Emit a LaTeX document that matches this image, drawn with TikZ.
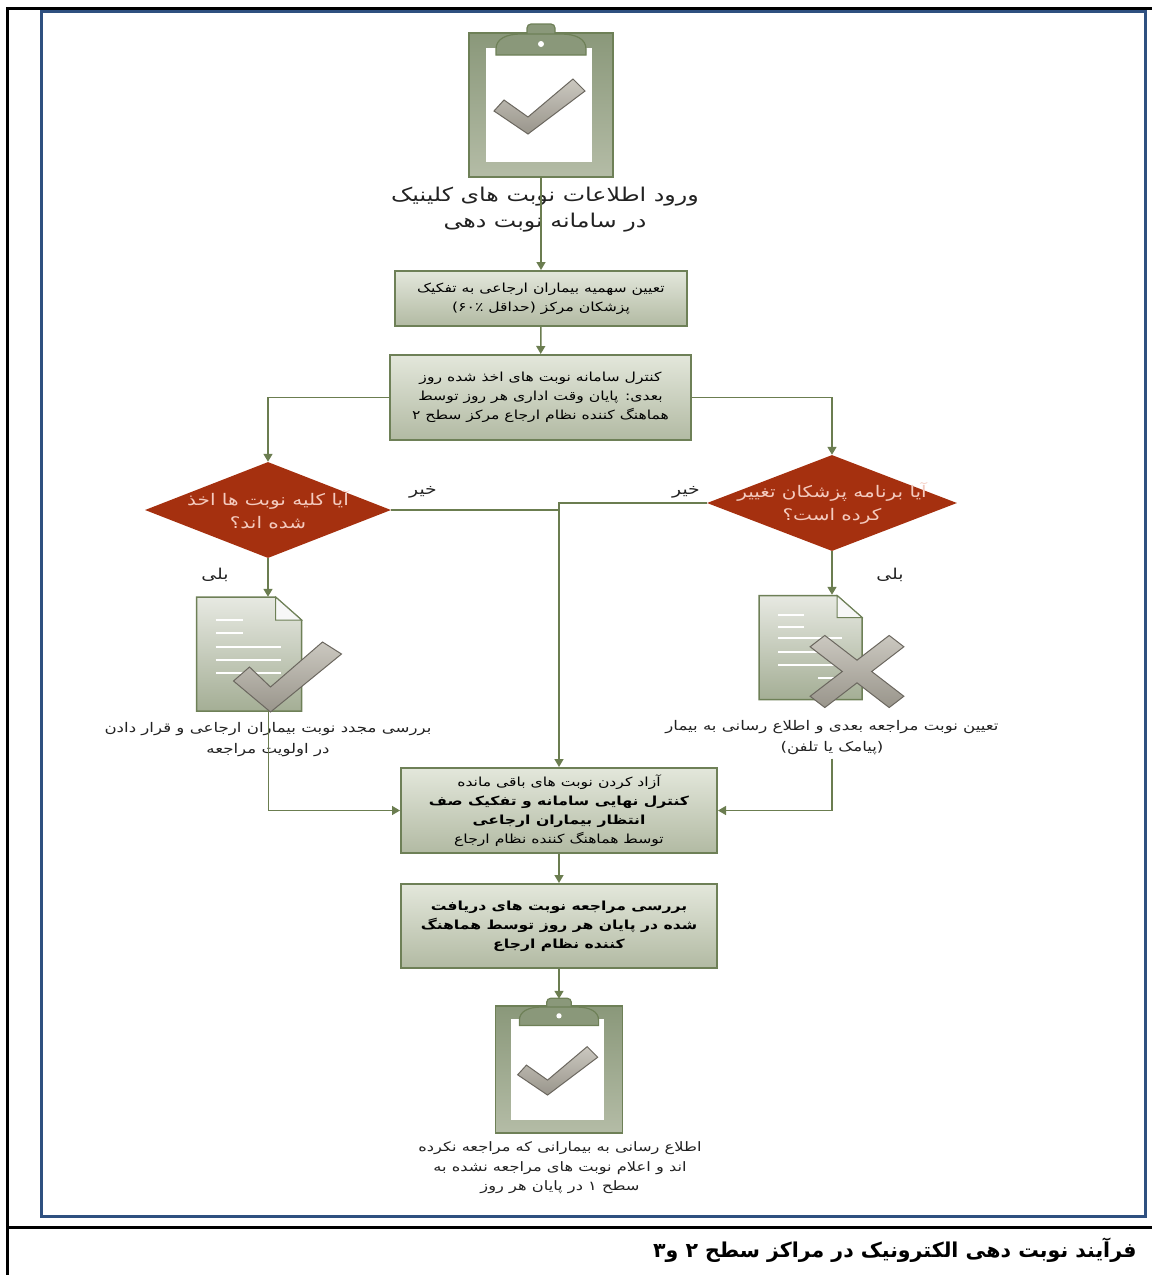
\documentclass[tikz,border=0pt]{standalone}
\usepackage{fontspec}
\usetikzlibrary{shapes.geometric,arrows.meta}
\newfontfamily\arabicfont[Script=Arabic, FakeStretch=1.25]{DejaVu Sans}
\newfontfamily\captionfont[Script=Arabic]{DejaVu Sans}
\TeXXeTstate=1
\newcommand{\fa}[1]{\beginR#1\endR}

\definecolor{boxedge}{HTML}{6E8057}
\definecolor{linegreen}{HTML}{6B7D50}
\definecolor{boxtop}{HTML}{E3E7DB}
\definecolor{boxbot}{HTML}{B2BAA3}
\definecolor{boardtop}{HTML}{8A987A}
\definecolor{boardbot}{HTML}{B4BCA6}
\definecolor{pagetop}{HTML}{E7E9E2}
\definecolor{pagebot}{HTML}{A4AE95}
\definecolor{decred}{HTML}{A5300F}
\definecolor{decink}{HTML}{F4CBBF}
\definecolor{frameblue}{HTML}{2F5080}
\definecolor{ticktop}{HTML}{CBC8C0}
\definecolor{tickbot}{HTML}{99958B}
\definecolor{tickline}{HTML}{6B675F}
\definecolor{inktext}{HTML}{222222}

\tikzset{
  box/.style={draw=boxedge, line width=2pt, top color=boxtop, bottom color=boxbot,
    inner sep=0pt, align=center, text=black, font=\arabicfont\fontsize{12.5}{19}\selectfont},
  decision/.style={diamond, aspect=2.56, fill=decred, inner xsep=-16pt, inner ysep=-4pt, align=center, text=decink,
    font=\arabicfont\fontsize{16}{23}\selectfont},
  note/.style={align=center, text=inktext, font=\arabicfont\fontsize{13.3}{21}\selectfont},
  answer/.style={text=inktext, font=\arabicfont\fontsize{15}{18}\selectfont},
  iconbox/.style={inner sep=0pt},
  tick/.style={draw=tickline, line width=1pt, top color=ticktop, bottom color=tickbot,
    line join=miter},
  flow/.style={draw=linegreen, line width=1.5pt, -{Triangle[length=8pt,width=9pt]}},
  plain/.style={draw=linegreen, line width=1.5pt},
  pics/clipboard/.style={code={
    \path [draw=boxedge, line width=1.5pt, top color=boardtop, bottom color=boardbot] (-72,-68) rectangle (72,76);
    \fill [white] (-55,-53) rectangle (51,61);
    \path [tick] (-47,10) -- (-37,-1) -- (-13,16) -- (32,-22) -- (44,-10) -- (-13,33) -- cycle;
    \path [draw=boxedge, line width=1.2pt, fill=boardtop, rounded corners=4pt] (-14,-64) -- (-14,-77) -- (14,-77) -- (14,-64);
    \path [draw=boxedge, line width=1.2pt, fill=boardtop] (-45,-46) -- (-45,-52) .. controls (-45,-62) and (-35,-67) .. (-20,-67)
      -- (20,-67) .. controls (35,-67) and (45,-62) .. (45,-52) -- (45,-46) -- cycle;
    \fill [white] (0,-57) circle (3pt);
  }}
}

\begin{document}
\begin{tikzpicture}[x=1pt, y=-1pt]
  \useasboundingbox (0,0) rectangle (1152,1275);

  \draw [line width=3pt] (7,1275) -- (7,8) -- (1152,8);
  \draw [line width=3pt] (7,1227) -- (1152,1227);
  \draw [frameblue, line width=3pt] (41,11) rectangle (1145,1216);

  \node [iconbox, minimum width=145pt, minimum height=152pt] (clipTop) at (541,101) {};
  \pic at (clipTop.center) {clipboard};
  \node [note, font=\arabicfont\fontsize{19}{26}\selectfont] (entry) at (545,210)
    {\fa{ورود اطلاعات نوبت های کلینیک}\\\fa{در سامانه نوبت دهی}};

  \node [box, minimum width=292pt, minimum height=55pt] (quota) at (541,298.5)
    {\fa{تعیین سهمیه بیماران ارجاعی به تفکیک}\\\fa{پزشکان مرکز (حداقل ۶۰٪)}};
  \node [box, minimum width=301pt, minimum height=85pt] (control) at (540.5,397.5)
    {\fa{کنترل سامانه نوبت های اخذ شده روز}\\\fa{بعدی: پایان وقت اداری هر روز توسط}\\\fa{هماهنگ کننده نظام ارجاع مرکز سطح ۲}};

  \node [decision, minimum width=246pt, minimum height=96pt] (allTaken) at (268,510)
    {\fa{آیا کلیه نوبت ها اخذ}\\\fa{شده اند؟}};
  \node [decision, minimum width=250pt, minimum height=96pt] (changed) at (832,503)
    {\fa{آیا برنامه پزشکان تغییر}\\\fa{کرده است؟}};

  \node [answer] (no1) at (423,492) {\fa{خیر}};
  \node [answer] (no2) at (686,492) {\fa{خیر}};
  \node [answer] (yes1) at (215,575) {\fa{بلی}};
  \node [answer] (yes2) at (890,575) {\fa{بلی}};

  \node [iconbox, minimum width=145pt, minimum height=114pt] (doc1) at (268.5,654) {};
  \begin{scope}[shift={(doc1.center)}]
    \path [draw=boxedge, line width=1.5pt, top color=pagetop, bottom color=pagebot]
      (-72,-57) -- (7,-57) -- (33,-34) -- (33,57) -- (-72,57) -- cycle;
    \path [draw=boxedge, line width=1pt, fill=white!94!gray] (7,-57) -- (7,-34) -- (33,-34) -- cycle;
    \draw [white, line width=2pt] (-53,-34) -- (-26,-34) (-53,-21) -- (-26,-21)
      (-53,-7) -- (12,-7) (-53,6) -- (12,6) (-53,19) -- (12,19);
    \path [tick] (-35,27) -- (-19,13) -- (2,33) -- (54,-12) -- (73,0) -- (2,58) -- cycle;
  \end{scope}
  \node [note] (review) at (268,740)
    {\fa{بررسی مجدد نوبت بیماران ارجاعی و قرار دادن}\\\fa{در اولویت مراجعه}};

  \node [iconbox, minimum width=146pt, minimum height=113pt] (doc2) at (832,651.5) {};
  \begin{scope}[shift={(doc2.center)}]
    \path [draw=boxedge, line width=1.5pt, top color=pagetop, bottom color=pagebot]
      (-73,-56) -- (5,-56) -- (30,-34) -- (30,48) -- (-73,48) -- cycle;
    \path [draw=boxedge, line width=1pt, fill=white!94!gray] (5,-56) -- (5,-34) -- (30,-34) -- cycle;
    \draw [white, line width=2pt] (-54,-37) -- (-28,-37) (-54,-25) -- (-28,-25)
      (-54,-14) -- (10,-14) (-54,0) -- (10,0) (-54,13) -- (10,13) (-14,26) -- (10,26);
    \path [tick, shift={(25,20)}, xscale=1.3, rotate=45]
      (-8,-43) -- (8,-43) -- (8,-8) -- (43,-8) -- (43,8) -- (8,8) -- (8,43)
      -- (-8,43) -- (-8,8) -- (-43,8) -- (-43,-8) -- (-8,-8) -- cycle;
  \end{scope}
  \node [note] (resched) at (832,738)
    {\fa{تعیین نوبت مراجعه بعدی و اطلاع رسانی به بیمار}\\\fa{(پیامک یا تلفن)}};

  \node [box, minimum width=316pt, minimum height=85pt] (release) at (559,810.5)
    {\fa{آزاد کردن نوبت های باقی مانده}\\\fa{\bfseries کنترل نهایی سامانه و تفکیک صف}\\
     \fa{\bfseries انتظار بیماران ارجاعی}\\\fa{توسط هماهنگ کننده نظام ارجاع}};
  \node [box, minimum width=316pt, minimum height=84pt, font=\arabicfont\bfseries\fontsize{12.5}{19}\selectfont] (daily) at (559,926)
    {\fa{بررسی مراجعه نوبت های دریافت}\\\fa{شده در پایان هر روز توسط هماهنگ}\\\fa{کننده نظام ارجاع}};

  \node [iconbox, minimum width=128pt, minimum height=134pt] (clipBot) at (559,1066) {};
  \pic [scale=0.88] at (clipBot.center) {clipboard};
  \node [note, font=\arabicfont\fontsize{13}{19.5}\selectfont] (inform) at (560,1168)
    {\fa{اطلاع رسانی به بیمارانی که مراجعه نکرده}\\\fa{اند و اعلام نوبت های مراجعه نشده به}\\\fa{سطح ۱ در پایان هر روز}};

  \node [anchor=east, text=black, font=\captionfont\bfseries\fontsize{20.5}{24}\selectfont] (caption) at (1140,1250)
    {\fa{فرآیند نوبت دهی الکترونیک در مراکز سطح ۲ و۳}};

  \draw [flow] (clipTop) -- (quota);
  \draw [flow] (quota) -- (control);
  \draw [flow] (control.west) -| (allTaken.north);
  \draw [flow] (control.east) -| (changed.north);
  \draw [plain] (allTaken.east) -- (allTaken.east -| release.north);
  \draw [flow] (changed.west) -| (release.north);
  \draw [flow] (allTaken.south) -- (allTaken.south |- doc1.north);
  \draw [flow] (changed.south) -- (changed.south |- doc2.north);
  \draw [flow] (doc1.south) |- (release.west);
  \draw [flow] (resched.south) |- (release.east);
  \draw [flow] (release) -- (daily);
  \draw [flow] (daily) -- (clipBot);
\end{tikzpicture}
\end{document}
